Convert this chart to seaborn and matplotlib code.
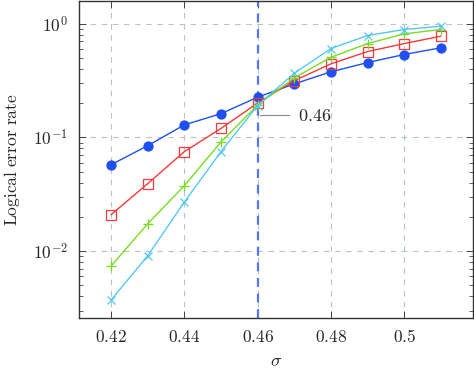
import numpy as np
import matplotlib
matplotlib.use("Agg")
import matplotlib.pyplot as plt
from matplotlib.lines import Line2D
from matplotlib.ticker import FixedLocator, FuncFormatter, LogLocator, NullFormatter
import seaborn as sns

# data
sigma = [0.42, 0.43, 0.44, 0.45, 0.46, 0.47, 0.48, 0.49, 0.50, 0.51]
rate_blue = [0.0575, 0.0847, 0.129, 0.162, 0.226, 0.296, 0.378, 0.456, 0.537, 0.615]
rate_red = [0.0209, 0.0392, 0.075, 0.120, 0.201, 0.316, 0.444, 0.570, 0.670, 0.778]
rate_green = [0.00738, 0.0174, 0.0376, 0.0912, 0.193, 0.334, 0.508, 0.670, 0.816, 0.891]
rate_cyan = [0.00371, 0.0091, 0.027, 0.075, 0.191, 0.367, 0.606, 0.789, 0.891, 0.953]
threshold = 0.46
threshold_label = "0.46"
x_ticks = [0.42, 0.44, 0.46, 0.48, 0.5]

sns.set_style("white")
plt.rcParams.update({
    "mathtext.fontset": "cm",
    "font.family": ["DejaVu Serif"],
    "axes.edgecolor": "#333333",
    "axes.linewidth": 1.0,
})

fig = plt.figure(figsize=(4.74, 3.73), dpi=100)
ax = fig.add_axes([0.167, 0.147, 0.831, 0.851])

series = [
    (rate_blue, "#1f4ff0", "o", dict(markersize=6.5, markerfacecolor="#1f4ff0")),
    (rate_red, "#f53a3a", "s", dict(markersize=7, markerfacecolor="none")),
    (rate_green, "#77dd22", "+", dict(markersize=7)),
    (rate_cyan, "#55c8f2", "x", dict(markersize=5.5)),
]
for vals, col, mk, kw in series:
    sns.lineplot(x=sigma, y=vals, ax=ax, color=col, marker=mk, linewidth=1.0,
                 markeredgecolor=col, markeredgewidth=0.9, **kw)

ax.axvline(threshold, color="#5577ee", linestyle=(0, (4, 3)), linewidth=1.6, zorder=1)

ax.set_yscale("log")
ax.set_xlim(0.4113, 0.5188)
ax.set_ylim(10 ** -2.59, 10 ** 0.203)

ax.xaxis.set_major_locator(FixedLocator(x_ticks))
ax.xaxis.set_major_formatter(FuncFormatter(lambda v, p: f"${v:g}$"))
ax.yaxis.set_major_locator(LogLocator(base=10))
ax.yaxis.set_major_formatter(FuncFormatter(lambda v, p: f"$10^{{{int(round(np.log10(v)))}}}$"))
ax.yaxis.set_minor_locator(LogLocator(base=10, subs=np.arange(2, 10)))
ax.yaxis.set_minor_formatter(NullFormatter())

ax.tick_params(which="both", direction="in", left=True, right=True, top=True, bottom=True,
               color="#444444", labelsize=12.5)
ax.tick_params(which="major", length=5, width=0.7, pad=8)
ax.tick_params(which="minor", length=3, width=0.6)

ax.grid(True, which="major", color="#b8c4c4", linestyle=(0, (5, 5)), linewidth=0.8)
ax.set_axisbelow(True)

ax.set_xlabel(r"$\sigma$", fontsize=13, labelpad=4)
ax.set_ylabel(r"$\mathrm{Logical\ error\ rate}$", fontsize=12.5, labelpad=8)

handle = Line2D([], [], color="#888888", linewidth=0.8)
ax.legend([handle], [f"${threshold_label}$"], loc="center left", bbox_to_anchor=(0.46, 0.637),
          frameon=False, fontsize=13, handlelength=1.6, handletextpad=0.5,
          borderpad=0, borderaxespad=0)

fig.savefig("out.png", dpi=100)
